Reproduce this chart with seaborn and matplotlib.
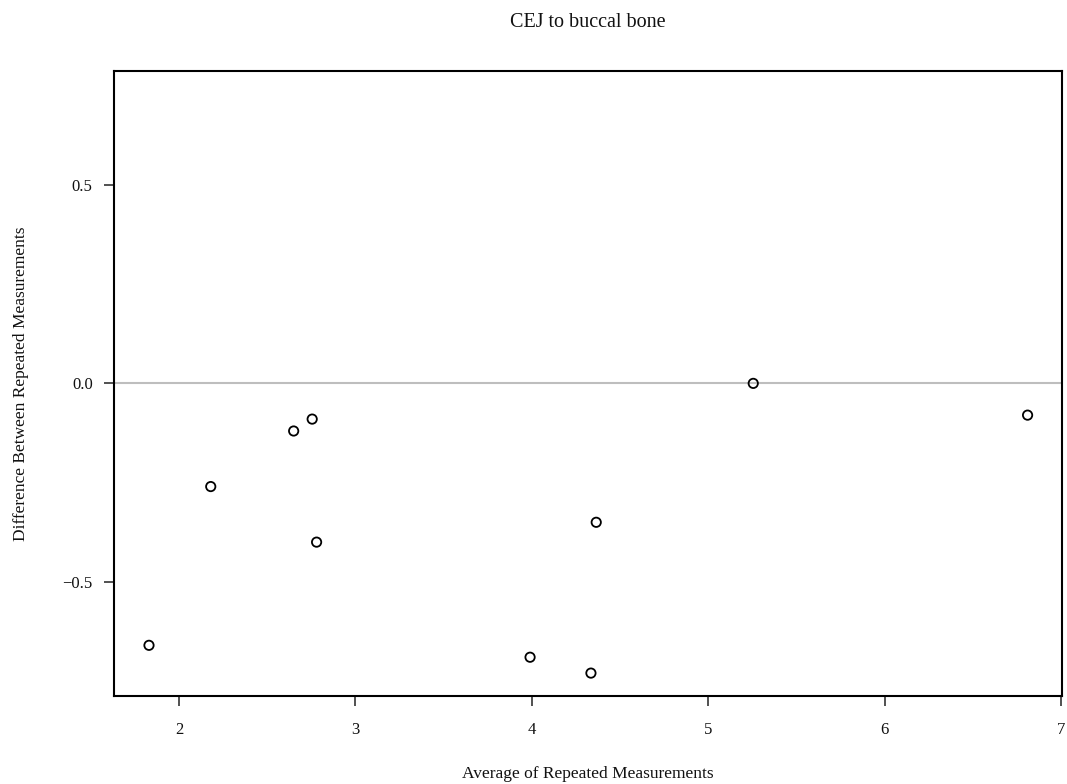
import numpy as np
import pandas as pd
import seaborn as sns
import matplotlib.pyplot as plt

# values
avg_vals = [1.83, 2.18, 2.65, 2.755, 2.78, 3.99, 4.335, 4.365, 5.255, 6.81]
diff_vals = [-0.66, -0.26, -0.12, -0.09, -0.40, -0.69, -0.73, -0.35, 0.0, -0.08]
x_ticks = [2, 3, 4, 5, 6, 7]
y_ticks = [-0.5, 0.0, 0.5]

df = pd.DataFrame({'avg': avg_vals, 'diff': diff_vals})

sns.set_style("ticks")
plt.rcParams['font.family'] = ['Liberation Serif', 'DejaVu Serif']
plt.rcParams['text.color'] = '#111111'
plt.rcParams['axes.labelcolor'] = '#111111'

fig = plt.figure(figsize=(10.67, 7.84), dpi=100)
ax = fig.add_axes([0.1064, 0.1126, 0.8889, 0.7968])

ax.axhline(0, color='#bebebe', lw=1.5, zorder=1)
sns.scatterplot(x='avg', y='diff', data=df, ax=ax, marker='o',
                facecolor='none', edgecolor='black', linewidth=1.3, s=45, zorder=3)

ax.set_xlim(1.629, 7.005)
ax.set_ylim(-0.787, 0.787)
ax.set_xticks(x_ticks)
ax.set_yticks(y_ticks)
ax.set_yticklabels(['\u22120.5', '0.0', '0.5'])

for sp in ax.spines.values():
    sp.set_visible(True)
    sp.set_linewidth(1.5)
    sp.set_color('black')

ax.tick_params(axis='both', length=7, width=1.2, labelsize=12,
               color='#333333', labelcolor='#111111')
ax.tick_params(axis='x', pad=12)
ax.tick_params(axis='y', pad=8)

ax.set_xlabel("Average of Repeated Measurements", fontsize=12.5, labelpad=20)
ax.set_ylabel("Difference Between Repeated Measurements", fontsize=12.5, labelpad=24)
ax.set_title("CEJ to buccal bone", fontsize=14.5, pad=32)

fig.savefig("out.png", dpi=100)
